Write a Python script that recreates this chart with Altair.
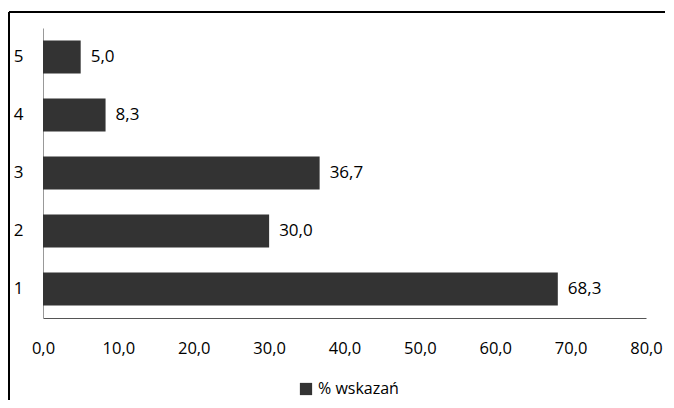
import altair as alt
import pandas as pd

categories = ["1", "2", "3", "4", "5"]
values = [68.3, 30.0, 36.7, 8.3, 5.0]
series_name = "% wskazań"
x_ticks = [0, 10, 20, 30, 40, 50, 60, 70, 80]

df = pd.DataFrame({"cat": categories, "v": values, "series": [series_name] * len(categories)})

FONT = "Open Sans"

base = alt.Chart(df)

bars = base.mark_bar(color="#333333", size=33).encode(
    y=alt.Y("cat:N", sort="descending", title=None,
            axis=alt.Axis(labelFontSize=17, labelPadding=20, ticks=False, domainColor="#999999",
                          labelAngle=0, labelColor="#000000", labelFont=FONT)),
    x=alt.X("v:Q", scale=alt.Scale(domain=[0, 80]), title=None,
            axis=alt.Axis(values=x_ticks, grid=False, ticks=False, labelPadding=22,
                          labelFontSize=16.5, domainColor="#555555", labelColor="#000000",
                          labelFont=FONT, labelFlush=False,
                          labelExpr="replace(format(datum.value, '.1f'), '.', ',')")),
    color=alt.Color("series:N", scale=alt.Scale(range=["#333333"]),
                    legend=alt.Legend(title=None, orient="none", legendX=255, legendY=353,
                                      symbolType="square", symbolSize=150, labelFontSize=16,
                                      labelFont=FONT, labelColor="#000000", symbolStrokeWidth=0,
                                      labelOffset=4)),
)

labels = base.transform_calculate(
    lab="replace(format(datum.v, '.1f'), '.', ',')"
).mark_text(align="left", dx=10, fontSize=17, font=FONT, color="#000000").encode(
    y=alt.Y("cat:N", sort="descending"),
    x=alt.X("v:Q"),
    text="lab:N",
)

frame_left = alt.Chart(df).mark_rule(color="#000000", strokeWidth=1.5).encode(
    x=alt.value(-34), y=alt.value(-16), y2=alt.value(420)
)
frame_top = alt.Chart(df).mark_rule(color="#000000", strokeWidth=1.5).encode(
    x=alt.value(-34), x2=alt.value(700), y=alt.value(-16)
)

chart = alt.layer(bars, labels, frame_left, frame_top).properties(
    width=603, height=290,
    autosize=alt.AutoSizeParams(type="none"),
    padding={"left": 35, "top": 20, "right": 19, "bottom": 82},
).configure_view(stroke=None)

chart.save("out.html", embed_options={"renderer": "svg", "actions": False})
